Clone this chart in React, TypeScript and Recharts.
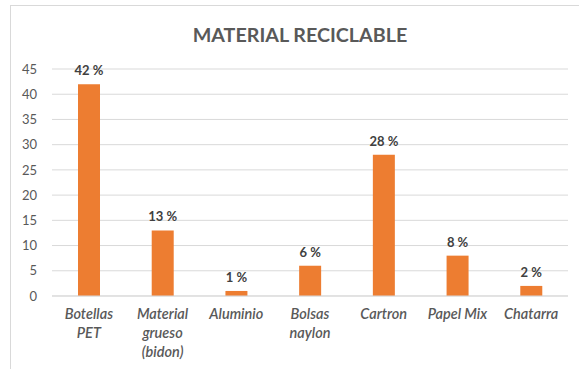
import { BarChart, Bar, XAxis, YAxis, CartesianGrid, LabelList } from "recharts";

// ---------------------------------------------------------------------------
// Data
// ---------------------------------------------------------------------------

const categories = [
  "Botellas\nPET",
  "Material\ngrueso\n(bidon)",
  "Aluminio",
  "Bolsas\nnaylon",
  "Cartron",
  "Papel Mix",
  "Chatarra",
];
const percentages = [42, 13, 1, 6, 28, 8, 2];
const yTicks = [0, 5, 10, 15, 20, 25, 30, 35, 40, 45];

const data = categories.map((name, i) => ({ name, value: percentages[i] }));

const FONT = "Lato, 'Open Sans', sans-serif";
const BAR_COLOR = "#ED7D31";
const GRID = "#d9d9d9";
const TEXT = "#595959";

function CategoryTick(props: any) {
  const { x, y, payload } = props;
  const lines = String(payload.value).split("\n");
  return (
    <text
      x={x}
      y={y}
      textAnchor="middle"
      fill={TEXT}
      fontFamily={FONT}
      fontSize={14.5}
      fontStyle="italic"
      fontWeight={600}
    >
      {lines.map((line, i) => (
        <tspan key={i} x={x} dy={i === 0 ? 15 : 19}>
          {line}
        </tspan>
      ))}
    </text>
  );
}

// value label above each bar, kept on one line
function PercentLabel(props: any) {
  const { x, y, width, value } = props;
  return (
    <text
      x={Number(x) + Number(width) / 2}
      y={Number(y) - 9}
      textAnchor="middle"
      fill="#404040"
      fontFamily={FONT}
      fontSize={13}
      fontWeight={700}
    >
      {`${value} %`}
    </text>
  );
}

export default function App() {
  return (
    <div
      style={{
        position: "absolute",
        left: 0,
        top: 0,
        width: 579,
        height: 369,
        background: "#fff",
        overflow: "hidden",
      }}
    >
      <div
        style={{
          position: "absolute",
          left: 10,
          top: 5,
          right: -2,
          bottom: -2,
          borderLeft: `1px solid ${GRID}`,
          borderTop: `1px solid ${GRID}`,
        }}
      />
      <div
        style={{
          position: "absolute",
          left: 0,
          top: 23,
          width: 600,
          textAlign: "center",
          fontFamily: FONT,
          fontWeight: 700,
          fontSize: 19.7,
          color: TEXT,
        }}
      >
        MATERIAL RECICLABLE
      </div>
      <div style={{ position: "absolute", left: 0, top: 0 }}>
        <BarChart
          width={579}
          height={369}
          data={data}
          margin={{ top: 69, right: 11, bottom: 13, left: 0 }}
          barSize={22}
        >
          <CartesianGrid vertical={false} stroke={GRID} />
          <XAxis
            dataKey="name"
            interval={0}
            height={60}
            tickLine={false}
            axisLine={{ stroke: GRID }}
            tick={<CategoryTick />}
          />
          <YAxis
            domain={[0, 45]}
            ticks={yTicks}
            width={52}
            tickSize={0}
            tickMargin={15}
            axisLine={false}
            tickLine={false}
            tick={{ fill: TEXT, fontFamily: FONT, fontSize: 13 }}
          />
          <Bar dataKey="value" fill={BAR_COLOR} isAnimationActive={false}>
            <LabelList dataKey="value" content={<PercentLabel />} />
          </Bar>
        </BarChart>
      </div>
    </div>
  );
}
